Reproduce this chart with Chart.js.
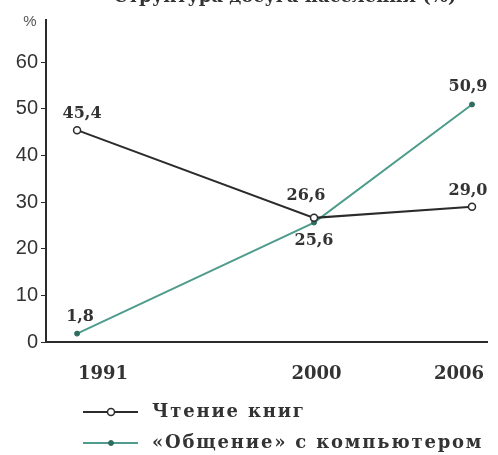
<!DOCTYPE html>
<html>
<head>
<meta charset="utf-8">
<script src="https://cdn.jsdelivr.net/npm/chart.js@4"></script>
<style>
  html, body { margin: 0; padding: 0; background: #fff; }
  #wrap { width: 498px; height: 455px; }
</style>
</head>
<body>
<div id="wrap"><canvas id="line-chart"></canvas></div>
<script>
const chartName = document.getElementById('line-chart');

const titulo = "Структура досуга населения (%)";
const anos = [1991, 2000, 2006];
const lectura = [45.4, 26.6, 29.0];
const computadora = [1.8, 25.6, 50.9];
const marcasY = [0, 10, 20, 30, 40, 50, 60];

const negro = "#2b2b2b";
const verde = "#4f9c8c";
const serif = "'DejaVu Serif', serif";

// desplazamiento de cada etiqueta respecto a su punto
const offsets = [
    [[5, -16], [-8, -22], [-4, -16]],
    [[3, -17], [0, 18], [-4, -18]]
];

const etiquetas = {
    id: 'etiquetas',
    afterDatasetsDraw(chart) {
        const ctx = chart.ctx;
        ctx.save();
        ctx.font = "bold 16px " + serif;
        ctx.fillStyle = "#333";
        ctx.textAlign = "center";
        ctx.textBaseline = "middle";
        chart.data.datasets.forEach((ds, i) => {
            chart.getDatasetMeta(i).data.forEach((pt, j) => {
                const txt = ds.data[j].y.toFixed(1).replace('.', ',');
                ctx.fillText(txt, pt.x + offsets[i][j][0], pt.y + offsets[i][j][1]);
            });
        });
        ctx.restore();
    }
};

const extras = {
    id: 'extras',
    afterDraw(chart) {
        const ctx = chart.ctx;
        ctx.save();
        // titulo cortado arriba
        ctx.font = "bold 18px " + serif;
        ctx.fillStyle = "#333";
        ctx.textAlign = "center";
        ctx.textBaseline = "alphabetic";
        ctx.fillText(titulo, 285, 2);
        // signo de %
        ctx.font = "15px 'Liberation Sans', sans-serif";
        ctx.fillStyle = "#555";
        ctx.textBaseline = "middle";
        ctx.fillText("%", 30, 22);
        // leyenda
        const filas = [412, 443];
        ctx.textAlign = "left";
        chart.data.datasets.forEach((ds, i) => {
            const y = filas[i];
            ctx.strokeStyle = ds.borderColor;
            ctx.lineWidth = 2;
            ctx.beginPath();
            ctx.moveTo(83, y);
            ctx.lineTo(138, y);
            ctx.stroke();
            ctx.beginPath();
            ctx.arc(111, y, ds.pointRadius, 0, Math.PI * 2);
            ctx.fillStyle = ds.pointBackgroundColor;
            ctx.fill();
            ctx.lineWidth = ds.pointBorderWidth;
            ctx.strokeStyle = ds.pointBorderColor;
            ctx.stroke();
            ctx.font = "bold 18px " + serif;
            ctx.letterSpacing = "1.8px";
            ctx.fillStyle = "#333";
            ctx.fillText(ds.label, 152, y);
        });
        ctx.restore();
    }
};

const datos = {
    datasets: [
        {
            label: "Чтение книг",
            data: anos.map((a, i) => ({x: a, y: lectura[i]})),
            borderColor: negro,
            borderWidth: 2,
            pointRadius: 3.5,
            pointBackgroundColor: "#fff",
            pointBorderColor: negro,
            pointBorderWidth: 1.5,
            fill: false
        },
        {
            label: "«Общение» с компьютером",
            data: anos.map((a, i) => ({x: a, y: computadora[i]})),
            borderColor: verde,
            borderWidth: 2,
            pointRadius: 2.5,
            pointBackgroundColor: "#2f6d60",
            pointBorderColor: "#2f6d60",
            pointBorderWidth: 1,
            fill: false
        }]
};

const sinPadding = (s) => { s.paddingLeft = 0; s.paddingRight = 0; };

const opciones = {
    responsive: true,
    maintainAspectRatio: false,
    animation: false,
    layout: { padding: { top: 20, right: 11, bottom: 73, left: 0 } },
    plugins: {
        legend: { display: false },
        tooltip: { enabled: false }
    },
    scales: {
        x: {
            type: 'linear',
            min: 1989.82,
            max: 2006.57,
            afterBuildTicks: (s) => { s.ticks = anos.map(v => ({value: v})); },
            afterFit: (s) => { s.height = 0; sinPadding(s); },
            grid: { display: false },
            border: { display: true, color: negro, width: 2 },
            ticks: { display: false }
        },
        // eje solo para los rotulos de los anos, algo desplazados como en el original
        anosEje: {
            type: 'linear',
            position: 'bottom',
            axis: 'x',
            min: 1988.6,
            max: 2007.18,
            afterBuildTicks: (s) => { s.ticks = anos.map(v => ({value: v})); },
            afterFit: (s) => { s.height = 40; sinPadding(s); },
            grid: { display: false },
            border: { display: false },
            ticks: {
                padding: 14,
                color: "#333",
                font: { family: serif, size: 18, weight: 'bold' },
                callback: (v) => String(v)
            }
        },
        y: {
            min: 0,
            max: 69,
            afterBuildTicks: (s) => { s.ticks = marcasY.map(v => ({value: v})); },
            afterFit: (s) => { s.width = 46; },
            grid: { drawOnChartArea: false, drawTicks: true, tickLength: 5, color: negro },
            border: { display: true, color: negro, width: 2 },
            ticks: {
                padding: 3,
                color: "#333",
                font: { family: "'Liberation Sans', sans-serif", size: 20 }
            }
        }
    }
};

const cfg = {
    type: 'line',
    data: datos,
    options: opciones,
    plugins: [etiquetas, extras]
};

new Chart(chartName, cfg);
</script>
</body>
</html>
